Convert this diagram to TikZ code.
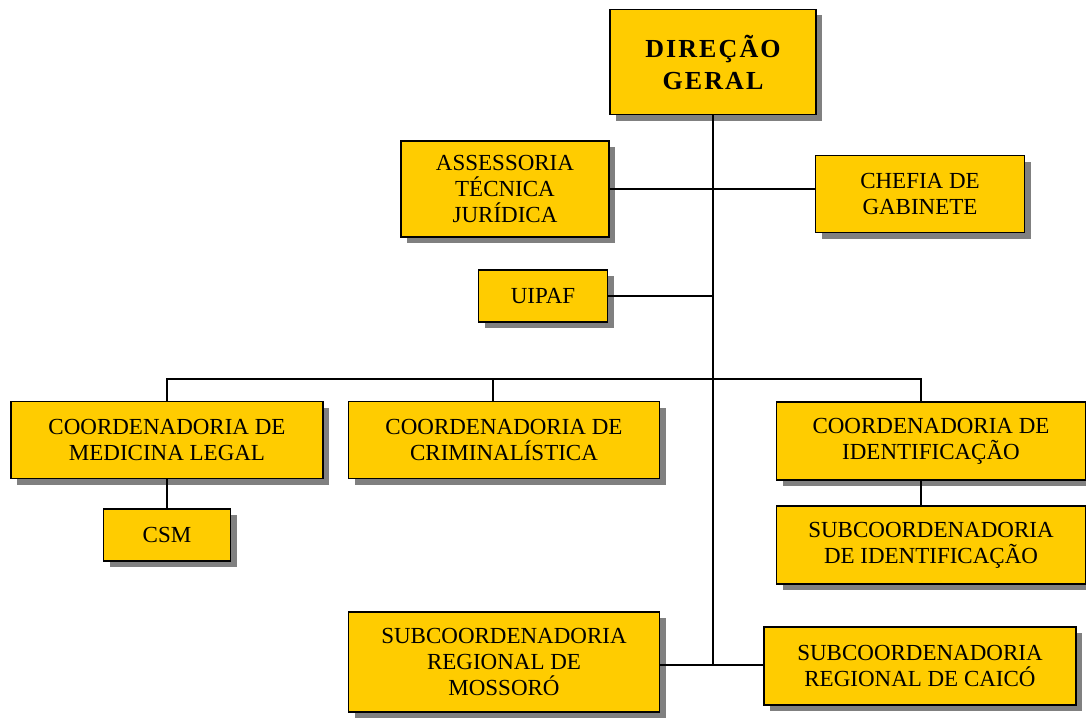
\documentclass[tikz,border=0pt]{standalone}
\usepackage{fontspec}
\setmainfont{Liberation Serif}
\usetikzlibrary{shadows}
\definecolor{caixa}{HTML}{FFCC00}
\tikzset{
  un/.style={rectangle,draw=black,fill=caixa,line width=1.8pt,align=center,inner sep=0pt,
    font=\fontsize{23}{26}\selectfont,
    drop shadow={shadow xshift=6pt,shadow yshift=-6pt,fill=black!50,opacity=1}},
  unt/.style={un,font=\fontsize{26}{32}\selectfont\bfseries\addfontfeatures{LetterSpace=8}},
  lk/.style={draw=black,line width=1.6pt},
}
\begin{document}
\begin{tikzpicture}[x=1pt,y=-1pt]
\useasboundingbox (0,0) rectangle (1086,717);
% ---------- direction and advisory units ----------
\node[unt,minimum width=206,minimum height=105] (dg) at (713,62) {DIREÇÃO\\GERAL};
\node[un,minimum width=208,minimum height=96] (ass) at (505,189) {ASSESSORIA\\TÉCNICA\\JURÍDICA};
\node[un,minimum width=209,minimum height=77] (che) at (920,194) {CHEFIA DE\\GABINETE};
\node[un,minimum width=129,minimum height=52] (uip) at (543,296) {UIPAF};
% ---------- coordinations ----------
\node[un,minimum width=312,minimum height=77] (cml) at (167,440) {COORDENADORIA DE\\MEDICINA LEGAL};
\node[un,minimum width=311,minimum height=77] (ccr) at (504,440) {COORDENADORIA DE\\CRIMINALÍSTICA};
\node[un,minimum width=309,minimum height=78] (cid) at (931,441) {COORDENADORIA DE\\IDENTIFICAÇÃO};
\node[un,minimum width=127,minimum height=52] (csm) at (167,535) {CSM};
\node[un,minimum width=309,minimum height=78] (sid) at (931,545) {SUBCOORDENADORIA\\DE IDENTIFICAÇÃO};
% ---------- regional units ----------
\node[un,minimum width=311,minimum height=100] (mos) at (504,662) {SUBCOORDENADORIA\\REGIONAL DE\\MOSSORÓ};
\node[un,minimum width=312,minimum height=78] (cai) at (920,666) {SUBCOORDENADORIA\\REGIONAL DE CAICÓ};
% ---------- connectors ----------
\coordinate (bar) at (713,379);
\coordinate (tr) at (713,665);
\draw[lk] (dg.south) -- (tr);
\draw[lk] (ass.east) -- (che.west |- ass.east);
\draw[lk] (uip.east) -- (uip.east -| dg.south);
\draw[lk] (cml.north) |- ([xshift=-10pt]cid.north |- bar) -- ([xshift=-10pt]cid.north);
\draw[lk] ([xshift=-11pt]ccr.north) -- ([xshift=-11pt]ccr.north |- bar);
\draw[lk] (cml.south) -- (csm.north);
\draw[lk] ([xshift=-10pt]cid.south) -- ([xshift=-10pt]sid.north);
\draw[lk] (mos.east |- tr) -- (cai.west |- tr);
\end{tikzpicture}
\end{document}
